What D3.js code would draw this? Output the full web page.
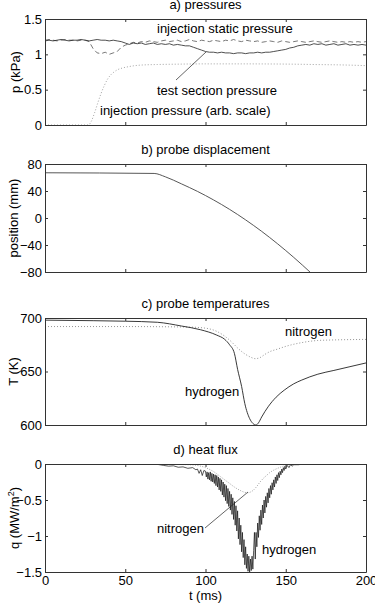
<!DOCTYPE html>
<html>
<head>
<meta charset="utf-8">
<script src="https://cdn.jsdelivr.net/npm/d3@7"></script>
<style>
  body { margin: 0; background: #fff; }
  svg { display: block; font-family: "Liberation Sans", Arial, Helvetica, sans-serif; font-size: 13px; }
</style>
</head>
<body>
<svg id="chart" width="375" height="607"></svg>
<script>
// ---- data ----
const tTicks = [0, 50, 100, 150, 200];

// a) pressures (kPa), sampled every 2.5 ms
const tPress = d3.range(0, 200.1, 2.5);
const testSection = [
  1.19, 1.20, 1.19, 1.20, 1.21, 1.20, 1.19, 1.20, 1.20, 1.21,
  1.20, 1.19, 1.20, 1.21, 1.20, 1.20, 1.19, 1.20, 1.19, 1.18,
  1.16, 1.14, 1.16, 1.15, 1.16, 1.14, 1.15, 1.16, 1.14, 1.15,
  1.14, 1.15, 1.13, 1.14, 1.13, 1.12, 1.12, 1.10, 1.08, 1.06,
  1.04, 1.03, 1.03, 1.02, 1.03, 1.02, 1.02, 1.01, 1.02, 1.02,
  1.01, 1.02, 1.02, 1.03, 1.02, 1.03, 1.03, 1.04, 1.05, 1.06,
  1.07, 1.09, 1.10, 1.12, 1.13, 1.14, 1.13, 1.15, 1.14, 1.15,
  1.13, 1.14, 1.15, 1.13, 1.14, 1.15, 1.13, 1.14, 1.13, 1.14,
  1.13
];
const staticPress = [
  1.20, 1.21, 1.20, 1.19, 1.20, 1.21, 1.20, 1.20, 1.19, 1.20,
  1.20, 1.18, 1.08, 1.02, 1.01, 1.03, 1.00, 1.02, 1.04, 1.10,
  1.13, 1.15, 1.17, 1.16, 1.18, 1.17, 1.19, 1.18, 1.17, 1.19,
  1.20, 1.18, 1.19, 1.20, 1.18, 1.19, 1.21, 1.19, 1.18, 1.20,
  1.19, 1.18, 1.20, 1.19, 1.18, 1.20, 1.19, 1.21, 1.19, 1.18,
  1.20, 1.19, 1.18, 1.19, 1.17, 1.18, 1.19, 1.18, 1.17, 1.19,
  1.18, 1.17, 1.18, 1.19, 1.18, 1.17, 1.18, 1.19, 1.18, 1.17,
  1.18, 1.19, 1.18, 1.17, 1.18, 1.17, 1.18, 1.17, 1.18, 1.17,
  1.18
];
const tInj = [0, 27, 29, 31, 33, 35, 37, 39, 41, 43, 45, 48, 52, 56, 60, 70, 80, 100, 120, 150, 170, 185, 200];
const injPress = [0, 0, 0.06, 0.18, 0.32, 0.45, 0.56, 0.65, 0.71, 0.75, 0.78, 0.805, 0.825, 0.84, 0.848, 0.856, 0.86, 0.865, 0.865, 0.862, 0.855, 0.85, 0.84];

// b) probe displacement (mm)
const tDisp = [0, 68, 75, 85, 95, 105, 115, 125, 135, 145, 155, 166];
const disp = [67, 66, 61, 50.6, 39.4, 26.8, 12.8, -2.8, -19.8, -38.4, -58.4, -82];

// c) probe temperatures (K)
const tHydT = [0, 30, 50, 70, 85, 97, 107, 112, 115, 118, 120, 122.5, 124.5, 127.5, 129.5, 131.5, 133, 135, 139, 144, 149, 155, 160, 170, 180, 190, 200];
const hydT = [698, 697.5, 697, 696, 692.5, 689, 684, 680, 675, 667, 652, 636, 620, 606, 601.5, 600, 602, 607.5, 617, 626, 632.5, 638.5, 642, 647.5, 651, 654.5, 658];
const tNitT = [0, 50, 90, 100, 107, 112, 116, 120, 124, 128, 131, 134, 137, 140, 145, 150, 160, 170, 180, 200];
const nitT = [692, 692, 691.5, 690.5, 687.5, 683, 678, 672, 667, 663.5, 662, 663, 666, 668.5, 671, 673.5, 677, 679, 679.5, 680];

// d) heat flux (MW/m2)
const tHydQLead = [0, 10, 20, 30, 40, 50, 60, 70, 74, 77, 80, 83, 86, 89, 92, 94, 95, 96, 97, 98, 99];
const hydQLead = [0, 0.005, -0.005, 0, 0.005, -0.005, 0, -0.005, -0.02, -0.03, -0.025, -0.045, -0.04, -0.06, -0.05, -0.08, -0.07, -0.13, -0.08, -0.16, -0.09];
// dip, sampled every 0.5 ms from 100 to 150
const tHydQDip = d3.range(100, 150.01, 0.5);
const hydQDip = [
  -0.10, -0.18, -0.11, -0.21, -0.12, -0.22, -0.11, -0.24, -0.13, -0.25,
  -0.14, -0.27, -0.15, -0.30, -0.16, -0.32, -0.18, -0.36, -0.20, -0.38,
  -0.22, -0.43, -0.25, -0.46, -0.28, -0.51, -0.30, -0.55, -0.34, -0.59,
  -0.38, -0.64, -0.42, -0.70, -0.47, -0.77, -0.52, -0.85, -0.58, -0.93,
  -0.65, -1.04, -0.75, -1.12, -0.85, -1.22, -0.95, -1.30, -1.05, -1.40,
  -1.15, -1.45, -1.25, -1.49, -1.28, -1.50, -1.32, -1.48, -1.28, -1.46,
  -1.20, -0.95, -1.32, -0.95, -1.15, -0.82, -1.02, -0.72, -0.92, -0.64,
  -0.84, -0.57, -0.75, -0.50, -0.68, -0.45, -0.60, -0.40, -0.54, -0.34,
  -0.47, -0.30, -0.42, -0.26, -0.36, -0.22, -0.32, -0.18, -0.27, -0.15,
  -0.23, -0.12, -0.19, -0.10, -0.15, -0.07, -0.12, -0.05, -0.09, -0.03,
  -0.07
];
const tHydQTail = [151, 152, 153, 154, 155, 158, 162, 166, 170, 180, 190, 200];
const hydQTail = [-0.02, -0.05, -0.01, -0.03, -0.01, -0.01, 0.005, -0.005, 0, 0, 0, 0];

const tNitQ = [0, 60, 90, 95, 100, 103, 106, 109, 112, 115, 118, 121, 124, 126, 128, 130, 132, 134, 136, 138, 140, 143, 146, 150, 155, 160, 200];
const nitQ = [0, 0, -0.01, -0.02, -0.05, -0.08, -0.12, -0.17, -0.22, -0.27, -0.32, -0.36, -0.39, -0.40, -0.39, -0.36, -0.31, -0.25, -0.2, -0.16, -0.12, -0.08, -0.05, -0.02, -0.01, 0, 0];

// ---- layout ----
const svg = d3.select("#chart");
const left = 45, right = 366;
const x = d3.scaleLinear().domain([0, 200]).range([left, right]);

const panels = [
  { title: "a) pressures", top: 19, bottom: 125, domain: [0, 1.5], ticks: [0, 0.5, 1, 1.5], ylab: "p (kPa)", ylabX: 20 },
  { title: "b) probe displacement", top: 164, bottom: 272, domain: [-80, 80], ticks: [-80, -40, 0, 40, 80], ylab: "position (mm)", ylabX: 17.5 },
  { title: "c) probe temperatures", top: 318, bottom: 425, domain: [600, 700], ticks: [600, 650, 700], ylab: "T (K)", ylabX: 17.5 },
  { title: "d) heat flux", top: 464, bottom: 572, domain: [-1.5, 0], ticks: [-1.5, -1, -0.5, 0], ylab: "q", ylabX: 19 }
];

const fmt = d3.format("");
const ink = "#222";

panels.forEach((p, i) => {
  p.y = d3.scaleLinear().domain(p.domain).range([p.bottom, p.top]);

  svg.append("clipPath").attr("id", "clip" + i)
    .append("rect")
    .attr("x", left).attr("y", p.top)
    .attr("width", right - left).attr("height", p.bottom - p.top);

  p.g = svg.append("g").attr("clip-path", `url(#clip${i})`);

  // axes box with inward ticks
  const axes = [
    [d3.axisBottom(x).tickValues(tTicks), `translate(0,${p.bottom})`, i === 3, 4],
    [d3.axisTop(x).tickValues(tTicks), `translate(0,${p.top})`, false, 3],
    [d3.axisLeft(p.y).tickValues(p.ticks), `translate(${left},0)`, true, 3],
    [d3.axisRight(p.y).tickValues(p.ticks), `translate(${right},0)`, false, 3]
  ];
  axes.forEach(([ax, tr, labels, pad]) => {
    ax.tickSize(-3).tickSizeOuter(0).tickPadding(pad)
      .tickFormat(labels ? fmt : "");
    const g = svg.append("g").attr("transform", tr).call(ax)
      .attr("font-size", null).attr("font-family", null)
      .style("color", "#333");
    g.selectAll("text").attr("fill", "#000");
  });

  svg.append("text")
    .attr("x", (left + right) / 2).attr("y", p.top - 10)
    .attr("text-anchor", "middle")
    .text(p.title);

  const yl = svg.append("text")
    .attr("transform", `translate(${p.ylabX},${(p.top + p.bottom) / 2}) rotate(-90)`)
    .attr("text-anchor", "middle");
  if (i === 3) {
    yl.append("tspan").text("q (MW/m");
    yl.append("tspan").attr("dy", -5).attr("font-size", 9).text("2");
    yl.append("tspan").attr("dy", 5).text(")");
  } else {
    yl.text(p.ylab);
  }
});

svg.append("text")
  .attr("x", (left + right) / 2).attr("y", 600)
  .attr("text-anchor", "middle")
  .text("t (ms)");

function drawLine(panel, ts, vs, style, curve) {
  const line = d3.line()
    .x(d => x(d[0]))
    .y(d => panel.y(d[1]))
    .curve(curve || d3.curveLinear);
  return panel.g.append("path")
    .attr("d", line(ts.map((t, k) => [t, vs[k]])))
    .attr("fill", "none")
    .attr("stroke", style.color)
    .attr("stroke-width", style.width || 0.8)
    .attr("stroke-dasharray", style.dash || null);
}

function note(txt, px, py) {
  svg.append("text").attr("x", px).attr("y", py).text(txt);
}
function leader(x1, y1, x2, y2) {
  svg.append("line")
    .attr("x1", x1).attr("y1", y1).attr("x2", x2).attr("y2", y2)
    .attr("stroke", ink).attr("stroke-width", 0.7);
}

const [pa, pb, pc, pd] = panels;

// a) pressures
drawLine(pa, tInj, injPress, { color: "#999", dash: "1,2", width: 0.9 }, d3.curveMonotoneX);
drawLine(pa, tPress, staticPress, { color: "#555", dash: "5,3" });
drawLine(pa, tPress, testSection, { color: ink });
note("injection static pressure", 157, 33);
note("test section pressure", 157, 94.5);
note("injection pressure (arb. scale)", 100, 114.5);
leader(176, 80, 206, 52);

// b) displacement
drawLine(pb, tDisp, disp, { color: "#444", width: 0.9 }, d3.curveMonotoneX);

// c) temperatures
drawLine(pc, tNitT, nitT, { color: "#888", dash: "1,2", width: 0.9 }, d3.curveMonotoneX);
drawLine(pc, tHydT, hydT, { color: ink, width: 0.9 }, d3.curveMonotoneX);
note("nitrogen", 285, 335.5);
note("hydrogen", 185, 396);

// d) heat flux
drawLine(pd, tHydQLead.concat(tHydQDip, tHydQTail), hydQLead.concat(hydQDip, hydQTail), { color: "#111", width: 0.7 });
drawLine(pd, tNitQ, nitQ, { color: "#999", dash: "1,1.5", width: 0.9 }, d3.curveMonotoneX);
note("nitrogen", 157, 532.5);
note("hydrogen", 262, 554);
leader(205, 528, 248, 492);
</script>
</body>
</html>
